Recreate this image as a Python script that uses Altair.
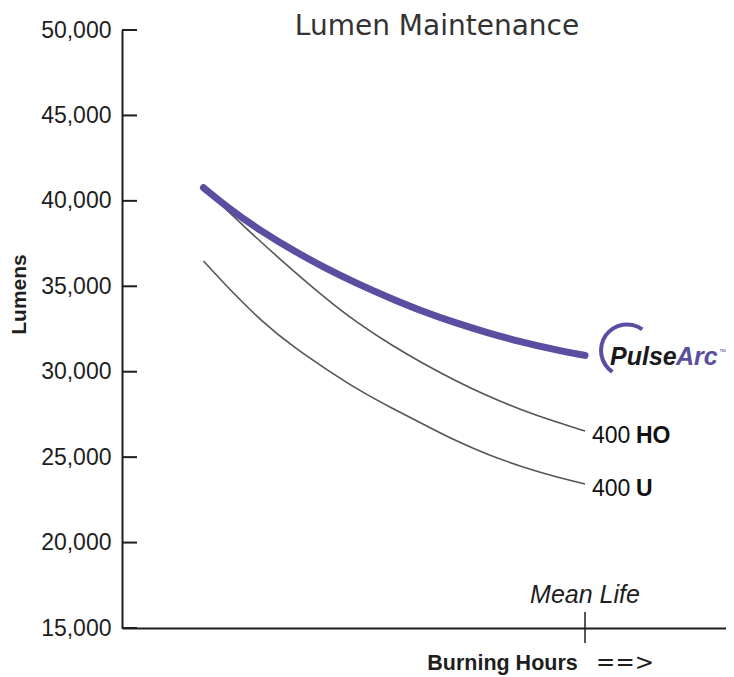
import altair as alt
import pandas as pd

# ---------------- data ----------------
TITLE = "Lumen Maintenance"
Y_TITLE = "Lumens"
X_TITLE = "Burning Hours"
ARROW = "==>"
MEAN_LIFE = "Mean Life"

tick_values = [15000, 20000, 25000, 30000, 35000, 40000, 45000, 50000]

hours = [17.6, 23.0, 30.2, 37.4, 43.8, 51.0, 58.3, 65.4, 71.9, 79.1, 86.3, 93.5, 100.0]
pulsearc = [40770, 39564, 38195, 37024, 36076, 35122, 34262, 33483, 32869, 32266, 31739, 31289, 30955]

ho_hours = [17.6, 20.8, 26.6, 33.8, 43.8, 51.0, 58.3, 65.4, 71.9, 79.1, 86.3, 93.5, 100.0]
ho = [40753, 39933, 38441, 36656, 34315, 32822, 31534, 30422, 29486, 28549, 27759, 27075, 26530]

u_hours = [17.6, 23.0, 30.2, 37.4, 43.8, 51.0, 58.3, 65.4, 71.9, 79.1, 86.3, 93.5, 100.0]
u = [36480, 34882, 32927, 31370, 30200, 28930, 27859, 26881, 25974, 25126, 24441, 23856, 23428]

label_num = ["400", "400"]
label_bold = ["HO", "U"]
logo_parts = ["Pulse", "Arc", "\u2122"]

# ---------------- frames ----------------
df_p = pd.DataFrame({"series": "PulseArc", "hours": hours, "lumens": pulsearc})
df_gray = pd.concat([
    pd.DataFrame({"series": "400 HO", "hours": ho_hours, "lumens": ho}),
    pd.DataFrame({"series": "400 U", "hours": u_hours, "lumens": u}),
])
df_ticks = pd.DataFrame({"lumens": tick_values})
df_lab = pd.DataFrame({"hours": [ho_hours[-1], u_hours[-1]], "lumens": [ho[-1], u[-1]],
                       "num": label_num, "bold": label_bold})
df_end = pd.DataFrame({"hours": [hours[-1]], "lumens": [pulsearc[-1]]})
df_one = pd.DataFrame({"t": [TITLE]})

PURPLE = "#5a4ea1"
GRAY = "#555555"
INK = "#1e1e1e"
SANS = "Liberation Sans"

W, H = 604, 598

x_scale = alt.Scale(domain=[0, 130.45], nice=False, zero=False)
y_scale = alt.Scale(domain=[15000, 50000], nice=False, zero=False)

x_axis = alt.Axis(title=X_TITLE, labels=False, ticks=False, grid=False,
                  domainColor=INK, domainWidth=2,
                  titleFont=SANS, titleFontSize=21.5, titleFontWeight="bold", titleColor=INK,
                  titleX=380, titleY=41, titleAlign="center", titleBaseline="alphabetic")
y_axis = alt.Axis(title=Y_TITLE, values=tick_values, format=",.0f", ticks=False, tickSize=0,
                  labelPadding=11, labelFont=SANS, labelFontSize=23, labelColor=INK,
                  domainColor=INK, domainWidth=2, grid=False,
                  titleFont=SANS, titleFontSize=21, titleFontWeight="bold", titleColor=INK,
                  titleX=-97, titleY=264, titleAngle=270, titleAlign="center",
                  titleBaseline="alphabetic")

X = alt.X("hours:Q", scale=x_scale, axis=x_axis)
Y = alt.Y("lumens:Q", scale=y_scale, axis=y_axis)

gray = alt.Chart(df_gray).mark_line(color=GRAY, strokeWidth=1.6, interpolate="basis").encode(
    x=X, y=Y, detail="series:N")

purple = alt.Chart(df_p).mark_line(color=PURPLE, strokeWidth=7, strokeCap="round",
                                   interpolate="basis").encode(x=X, y=Y)

yticks = alt.Chart(df_ticks).mark_rule(color=INK, strokeWidth=2).encode(
    y=Y, x=alt.value(0), x2=alt.value(15))

ml_rule = alt.Chart(df_end).mark_rule(color=INK, strokeWidth=1.5).encode(
    x=X, y=alt.value(H - 16), y2=alt.value(H + 15))

ml_text = alt.Chart(df_end).mark_text(font=SANS, fontSize=25, fontStyle="italic",
                                      color=INK, align="center", baseline="alphabetic").encode(
    x=X, y=alt.value(H - 25), text=alt.value(MEAN_LIFE))

arrow = alt.Chart(df_end).mark_text(font="DejaVu Sans", fontSize=23, color=INK,
                                    align="center", baseline="middle", dx=40).encode(
    x=X, y=alt.value(H + 35), text=alt.value(ARROW))

lab_num = alt.Chart(df_lab).mark_text(font=SANS, fontSize=23, color="#111",
                                      align="left", baseline="alphabetic", dx=7, dy=12).encode(
    x=X, y=Y, text="num:N")
lab_bold = alt.Chart(df_lab).mark_text(font=SANS, fontSize=23, fontWeight="bold", color="#111",
                                       align="left", baseline="alphabetic", dx=51, dy=12).encode(
    x=X, y=Y, text="bold:N")

swoosh = alt.Chart(df_end).mark_arc(color=PURPLE, innerRadius=24, outerRadius=28,
                                    theta=3.74, theta2=6.91, xOffset=42, yOffset=-5).encode(
    x=X, y=Y)
logo1 = alt.Chart(df_end).mark_text(font=SANS, fontSize=25, fontWeight="bold",
                                    fontStyle="italic", color="#1a1a1a", align="left",
                                    baseline="alphabetic", dx=25, dy=10).encode(
    x=X, y=Y, text=alt.value(logo_parts[0]))
logo2 = alt.Chart(df_end).mark_text(font=SANS, fontSize=25, fontWeight="bold",
                                    fontStyle="italic", color=PURPLE, align="left",
                                    baseline="alphabetic", dx=91, dy=10).encode(
    x=X, y=Y, text=alt.value(logo_parts[1]))
logo3 = alt.Chart(df_end).mark_text(font=SANS, fontSize=7, color=PURPLE,
                                    align="left", baseline="alphabetic", dx=134, dy=-1).encode(
    x=X, y=Y, text=alt.value(logo_parts[2]))

title = alt.Chart(df_one).mark_text(font="DejaVu Sans", fontSize=28, color="#333333",
                                    align="center", baseline="alphabetic").encode(
    x=alt.value(315), y=alt.value(5), text="t:N")

chart = alt.layer(
    gray, purple, yticks, ml_rule, ml_text, arrow, lab_num, lab_bold,
    swoosh, logo1, logo2, logo3, title
).properties(
    width=W, height=H,
    padding={"left": 114, "top": 22, "right": 0, "bottom": 49},
    autosize=alt.AutoSizeParams(type="none"),
).configure_view(stroke=None)

chart.save("out.html", embed_options={"renderer": "svg", "actions": False})
